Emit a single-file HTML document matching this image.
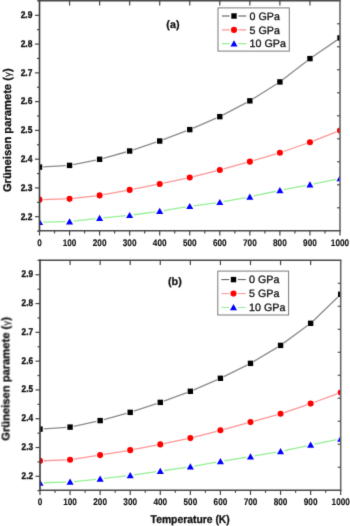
<!DOCTYPE html>
<html><head><meta charset="utf-8"><style>
html,body{margin:0;padding:0;background:#fff;}
body{width:350px;height:526px;overflow:hidden;}
svg{display:block;}
text{font-family:"Liberation Sans",sans-serif;fill:#111;text-rendering:geometricPrecision;}
.tl{font-size:9.8px;font-weight:bold;stroke:#111;stroke-width:0.35px;stroke-linejoin:round;}
.xl{font-size:9.5px;font-weight:bold;stroke:#111;stroke-width:0.15px;stroke-linejoin:round;}
.yt{font-size:11.2px;font-weight:bold;stroke:#111;stroke-width:0.3px;stroke-linejoin:round;}
.gm{font-weight:normal;font-size:10px;stroke-width:0.1px;}
.pl{font-size:10.8px;font-weight:bold;stroke:#111;stroke-width:0.25px;stroke-linejoin:round;}
.lg{font-size:10.7px;stroke:#111;stroke-width:0.3px;}
.xt{font-size:11.2px;font-weight:bold;stroke:#111;stroke-width:0.3px;stroke-linejoin:round;}
</style></head><body>
<svg width="350" height="526" viewBox="0 0 350 526">
<defs><filter id="bl" color-interpolation-filters="sRGB" x="0" y="0" width="100%" height="100%" filterUnits="userSpaceOnUse"><feConvolveMatrix order="3" kernelMatrix="0.0113 0.0838 0.0113 0.0838 0.6193 0.0838 0.0113 0.0838 0.0113" edgeMode="duplicate" preserveAlpha="true"/></filter></defs>
<g filter="url(#bl)">
<rect width="350" height="526" fill="#fff"/>
<clipPath id="ca"><rect x="39.5" y="0.8" width="300.5" height="230.0"/></clipPath>
<g clip-path="url(#ca)">
<path d="M43.29,166.89L65.76,165.62M73.27,164.65L95.88,160.06M103.26,158.29L125.99,152.00M133.26,149.79L156.09,142.20M163.25,139.66L186.20,130.96M193.24,128.11L216.31,118.14M223.16,114.87L246.49,102.61M253.07,98.82L276.68,83.94M282.90,79.58L306.95,60.94M313.08,56.46L336.87,40.10" fill="none" stroke="#8a8a8a" stroke-width="1.3"/>
<rect x="36.80" y="164.40" width="5.4" height="5.4" fill="#000"/>
<rect x="66.85" y="162.70" width="5.4" height="5.4" fill="#000"/>
<rect x="96.90" y="156.60" width="5.4" height="5.4" fill="#000"/>
<rect x="126.95" y="148.29" width="5.4" height="5.4" fill="#000"/>
<rect x="157.00" y="138.31" width="5.4" height="5.4" fill="#000"/>
<rect x="187.05" y="126.91" width="5.4" height="5.4" fill="#000"/>
<rect x="217.10" y="113.94" width="5.4" height="5.4" fill="#000"/>
<rect x="247.15" y="98.14" width="5.4" height="5.4" fill="#000"/>
<rect x="277.20" y="79.21" width="5.4" height="5.4" fill="#000"/>
<rect x="307.25" y="55.91" width="5.4" height="5.4" fill="#000"/>
<rect x="337.30" y="35.25" width="5.4" height="5.4" fill="#000"/>
<path d="M43.40,199.54L65.65,198.96M73.42,198.42L95.73,195.86M103.44,194.71L125.81,190.59M133.48,189.13L155.87,184.71M163.51,183.15L185.94,178.36M193.53,176.59L216.02,170.90M223.56,168.91L246.09,162.70M253.59,160.56L276.16,153.90M283.58,151.51L306.27,143.51M313.58,140.80L336.37,131.92" fill="none" stroke="#ff9494" stroke-width="1.3"/>
<circle cx="39.50" cy="199.64" r="3.05" fill="#f00"/>
<circle cx="69.55" cy="198.86" r="3.05" fill="#f00"/>
<circle cx="99.60" cy="195.41" r="3.05" fill="#f00"/>
<circle cx="129.65" cy="189.89" r="3.05" fill="#f00"/>
<circle cx="159.70" cy="183.96" r="3.05" fill="#f00"/>
<circle cx="189.75" cy="177.54" r="3.05" fill="#f00"/>
<circle cx="219.80" cy="169.95" r="3.05" fill="#f00"/>
<circle cx="249.85" cy="161.66" r="3.05" fill="#f00"/>
<circle cx="279.90" cy="152.80" r="3.05" fill="#f00"/>
<circle cx="309.95" cy="142.21" r="3.05" fill="#f00"/>
<circle cx="340.00" cy="130.51" r="3.05" fill="#f00"/>
<path d="M43.50,222.11L65.55,221.67M73.53,221.15L95.62,218.70M103.58,217.86L125.67,215.68M133.61,214.76L155.74,211.79M163.65,210.61L185.80,206.96M193.72,205.79L215.83,202.84M223.74,201.60L245.91,197.56M253.76,196.01L275.99,191.24M283.83,189.64L306.02,185.35M313.87,183.80L336.08,179.29" fill="none" stroke="#94f094" stroke-width="1.3"/>
<polygon points="39.50,218.79 43.05,224.99 35.95,224.99" fill="#00f"/>
<polygon points="69.55,218.18 73.10,224.38 66.00,224.38" fill="#00f"/>
<polygon points="99.60,214.84 103.15,221.04 96.05,221.04" fill="#00f"/>
<polygon points="129.65,211.88 133.20,218.08 126.10,218.08" fill="#00f"/>
<polygon points="159.70,207.85 163.25,214.05 156.15,214.05" fill="#00f"/>
<polygon points="189.75,202.90 193.30,209.10 186.20,209.10" fill="#00f"/>
<polygon points="219.80,198.91 223.35,205.11 216.25,205.11" fill="#00f"/>
<polygon points="249.85,193.44 253.40,199.64 246.30,199.64" fill="#00f"/>
<polygon points="279.90,186.99 283.45,193.19 276.35,193.19" fill="#00f"/>
<polygon points="309.95,181.18 313.50,187.38 306.40,187.38" fill="#00f"/>
<polygon points="340.00,175.08 343.55,181.28 336.45,181.28" fill="#00f"/>
</g>
<path d="M38.7,0.8H340.8" stroke="#4a4a4a" stroke-width="1.6"/>
<path d="M38.7,230.8H340.8" stroke="#4a4a4a" stroke-width="1.6"/>
<path d="M340.0,0.8V230.8" stroke="#666" stroke-width="1.6"/>
<path d="M39.5,0.0V231.60000000000002" stroke="#3a3a3a" stroke-width="1.6"/>
<line x1="37.0" y1="231.08" x2="39.5" y2="231.08" stroke="#444" stroke-width="1.2"/>
<line x1="35.0" y1="216.70" x2="39.5" y2="216.70" stroke="#444" stroke-width="1.2"/>
<line x1="37.0" y1="202.32" x2="39.5" y2="202.32" stroke="#444" stroke-width="1.2"/>
<line x1="35.0" y1="187.93" x2="39.5" y2="187.93" stroke="#444" stroke-width="1.2"/>
<line x1="37.0" y1="173.55" x2="39.5" y2="173.55" stroke="#444" stroke-width="1.2"/>
<line x1="35.0" y1="159.16" x2="39.5" y2="159.16" stroke="#444" stroke-width="1.2"/>
<line x1="37.0" y1="144.77" x2="39.5" y2="144.77" stroke="#444" stroke-width="1.2"/>
<line x1="35.0" y1="130.39" x2="39.5" y2="130.39" stroke="#444" stroke-width="1.2"/>
<line x1="37.0" y1="116.00" x2="39.5" y2="116.00" stroke="#444" stroke-width="1.2"/>
<line x1="35.0" y1="101.62" x2="39.5" y2="101.62" stroke="#444" stroke-width="1.2"/>
<line x1="37.0" y1="87.23" x2="39.5" y2="87.23" stroke="#444" stroke-width="1.2"/>
<line x1="35.0" y1="72.85" x2="39.5" y2="72.85" stroke="#444" stroke-width="1.2"/>
<line x1="37.0" y1="58.47" x2="39.5" y2="58.47" stroke="#444" stroke-width="1.2"/>
<line x1="35.0" y1="44.08" x2="39.5" y2="44.08" stroke="#444" stroke-width="1.2"/>
<line x1="37.0" y1="29.69" x2="39.5" y2="29.69" stroke="#444" stroke-width="1.2"/>
<line x1="35.0" y1="15.31" x2="39.5" y2="15.31" stroke="#444" stroke-width="1.2"/>
<line x1="37.0" y1="0.92" x2="39.5" y2="0.92" stroke="#444" stroke-width="1.2"/>
<line x1="39.50" y1="230.8" x2="39.50" y2="235.5" stroke="#444" stroke-width="1.2"/>
<line x1="54.52" y1="230.8" x2="54.52" y2="233.4" stroke="#444" stroke-width="1.2"/>
<line x1="69.55" y1="230.8" x2="69.55" y2="235.5" stroke="#444" stroke-width="1.2"/>
<line x1="84.58" y1="230.8" x2="84.58" y2="233.4" stroke="#444" stroke-width="1.2"/>
<line x1="99.60" y1="230.8" x2="99.60" y2="235.5" stroke="#444" stroke-width="1.2"/>
<line x1="114.62" y1="230.8" x2="114.62" y2="233.4" stroke="#444" stroke-width="1.2"/>
<line x1="129.65" y1="230.8" x2="129.65" y2="235.5" stroke="#444" stroke-width="1.2"/>
<line x1="144.68" y1="230.8" x2="144.68" y2="233.4" stroke="#444" stroke-width="1.2"/>
<line x1="159.70" y1="230.8" x2="159.70" y2="235.5" stroke="#444" stroke-width="1.2"/>
<line x1="174.72" y1="230.8" x2="174.72" y2="233.4" stroke="#444" stroke-width="1.2"/>
<line x1="189.75" y1="230.8" x2="189.75" y2="235.5" stroke="#444" stroke-width="1.2"/>
<line x1="204.78" y1="230.8" x2="204.78" y2="233.4" stroke="#444" stroke-width="1.2"/>
<line x1="219.80" y1="230.8" x2="219.80" y2="235.5" stroke="#444" stroke-width="1.2"/>
<line x1="234.82" y1="230.8" x2="234.82" y2="233.4" stroke="#444" stroke-width="1.2"/>
<line x1="249.85" y1="230.8" x2="249.85" y2="235.5" stroke="#444" stroke-width="1.2"/>
<line x1="264.88" y1="230.8" x2="264.88" y2="233.4" stroke="#444" stroke-width="1.2"/>
<line x1="279.90" y1="230.8" x2="279.90" y2="235.5" stroke="#444" stroke-width="1.2"/>
<line x1="294.93" y1="230.8" x2="294.93" y2="233.4" stroke="#444" stroke-width="1.2"/>
<line x1="309.95" y1="230.8" x2="309.95" y2="235.5" stroke="#444" stroke-width="1.2"/>
<line x1="324.98" y1="230.8" x2="324.98" y2="233.4" stroke="#444" stroke-width="1.2"/>
<line x1="340.00" y1="230.8" x2="340.00" y2="235.5" stroke="#444" stroke-width="1.2"/>
<line x1="69.55" y1="0.8" x2="69.55" y2="5.6" stroke="#444" stroke-width="1.2"/>
<line x1="99.60" y1="0.8" x2="99.60" y2="5.6" stroke="#444" stroke-width="1.2"/>
<line x1="129.65" y1="0.8" x2="129.65" y2="5.6" stroke="#444" stroke-width="1.2"/>
<line x1="159.70" y1="0.8" x2="159.70" y2="5.6" stroke="#444" stroke-width="1.2"/>
<line x1="189.75" y1="0.8" x2="189.75" y2="5.6" stroke="#444" stroke-width="1.2"/>
<line x1="219.80" y1="0.8" x2="219.80" y2="5.6" stroke="#444" stroke-width="1.2"/>
<line x1="249.85" y1="0.8" x2="249.85" y2="5.6" stroke="#444" stroke-width="1.2"/>
<line x1="279.90" y1="0.8" x2="279.90" y2="5.6" stroke="#444" stroke-width="1.2"/>
<line x1="309.95" y1="0.8" x2="309.95" y2="5.6" stroke="#444" stroke-width="1.2"/>
<line x1="337.0" y1="23.80" x2="340.0" y2="23.80" stroke="#444" stroke-width="1.1"/>
<line x1="337.0" y1="46.80" x2="340.0" y2="46.80" stroke="#444" stroke-width="1.1"/>
<line x1="337.0" y1="69.80" x2="340.0" y2="69.80" stroke="#444" stroke-width="1.1"/>
<line x1="337.0" y1="92.80" x2="340.0" y2="92.80" stroke="#444" stroke-width="1.1"/>
<line x1="337.0" y1="115.80" x2="340.0" y2="115.80" stroke="#444" stroke-width="1.1"/>
<line x1="337.0" y1="138.80" x2="340.0" y2="138.80" stroke="#444" stroke-width="1.1"/>
<line x1="337.0" y1="161.80" x2="340.0" y2="161.80" stroke="#444" stroke-width="1.1"/>
<line x1="337.0" y1="184.80" x2="340.0" y2="184.80" stroke="#444" stroke-width="1.1"/>
<line x1="337.0" y1="207.80" x2="340.0" y2="207.80" stroke="#444" stroke-width="1.1"/>
<text transform="translate(32.4,219.50) scale(0.86,1)" class="tl" text-anchor="end">2.2</text>
<text transform="translate(32.4,190.73) scale(0.86,1)" class="tl" text-anchor="end">2.3</text>
<text transform="translate(32.4,161.96) scale(0.86,1)" class="tl" text-anchor="end">2.4</text>
<text transform="translate(32.4,133.19) scale(0.86,1)" class="tl" text-anchor="end">2.5</text>
<text transform="translate(32.4,104.42) scale(0.86,1)" class="tl" text-anchor="end">2.6</text>
<text transform="translate(32.4,75.65) scale(0.86,1)" class="tl" text-anchor="end">2.7</text>
<text transform="translate(32.4,46.88) scale(0.86,1)" class="tl" text-anchor="end">2.8</text>
<text transform="translate(32.4,18.11) scale(0.86,1)" class="tl" text-anchor="end">2.9</text>
<text transform="translate(39.50,245.5) scale(0.865,1)" class="xl" text-anchor="middle">0</text>
<text transform="translate(69.55,245.5) scale(0.865,1)" class="xl" text-anchor="middle">100</text>
<text transform="translate(99.60,245.5) scale(0.865,1)" class="xl" text-anchor="middle">200</text>
<text transform="translate(129.65,245.5) scale(0.865,1)" class="xl" text-anchor="middle">300</text>
<text transform="translate(159.70,245.5) scale(0.865,1)" class="xl" text-anchor="middle">400</text>
<text transform="translate(189.75,245.5) scale(0.865,1)" class="xl" text-anchor="middle">500</text>
<text transform="translate(219.80,245.5) scale(0.865,1)" class="xl" text-anchor="middle">600</text>
<text transform="translate(249.85,245.5) scale(0.865,1)" class="xl" text-anchor="middle">700</text>
<text transform="translate(279.90,245.5) scale(0.865,1)" class="xl" text-anchor="middle">800</text>
<text transform="translate(309.95,245.5) scale(0.865,1)" class="xl" text-anchor="middle">900</text>
<text transform="translate(340.00,245.5) scale(0.865,1)" class="xl" text-anchor="middle">1000</text>
<text class="yt" transform="translate(10.9,192.1) rotate(-90)">Grüneisen paramete (<tspan class="gm">γ</tspan>)</text>
<text class="pl" x="166.3" y="27.7">(a)</text>
<rect x="218.0" y="7.9" width="71.3" height="43.2" fill="#fff" stroke="#7a7a7a" stroke-width="1"/>
<path d="M221.9,16.0H229.6M238.4,16.0H246.3" stroke="#8a8a8a" stroke-width="1.3"/>
<rect x="231.3" y="13.3" width="5.4" height="5.4" fill="#000"/>
<text class="lg" x="249.6" y="19.8">0 GPa</text>
<path d="M221.9,29.9H229.6M238.4,29.9H246.3" stroke="#ff9494" stroke-width="1.3"/>
<circle cx="234" cy="29.9" r="3.05" fill="#f00"/>
<text class="lg" x="249.6" y="33.699999999999996">5 GPa</text>
<path d="M221.9,43.6H229.6M238.4,43.6H246.3" stroke="#94f094" stroke-width="1.3"/>
<polygon points="234,40.19 237.55,46.39 230.45,46.39" fill="#00f"/>
<text class="lg" x="249.6" y="47.4">10 GPa</text>
<clipPath id="cb"><rect x="40.0" y="260.3" width="300.7" height="229.89999999999998"/></clipPath>
<g clip-path="url(#cb)">
<path d="M43.79,428.86L66.28,427.35M73.78,426.29L96.43,421.39M103.81,419.59L126.54,413.36M133.82,411.16L156.67,403.59M163.85,401.08L186.78,392.63M193.84,389.80L216.93,379.81M223.82,376.61L247.09,365.05M253.75,361.41L277.30,347.34M283.62,343.14L307.57,325.56M313.36,320.67L337.97,296.93" fill="none" stroke="#8a8a8a" stroke-width="1.3"/>
<rect x="37.30" y="426.41" width="5.4" height="5.4" fill="#000"/>
<rect x="67.37" y="424.40" width="5.4" height="5.4" fill="#000"/>
<rect x="97.44" y="417.89" width="5.4" height="5.4" fill="#000"/>
<rect x="127.51" y="409.66" width="5.4" height="5.4" fill="#000"/>
<rect x="157.58" y="399.70" width="5.4" height="5.4" fill="#000"/>
<rect x="187.65" y="388.61" width="5.4" height="5.4" fill="#000"/>
<rect x="217.72" y="375.60" width="5.4" height="5.4" fill="#000"/>
<rect x="247.79" y="360.66" width="5.4" height="5.4" fill="#000"/>
<rect x="277.86" y="342.69" width="5.4" height="5.4" fill="#000"/>
<rect x="307.93" y="320.61" width="5.4" height="5.4" fill="#000"/>
<rect x="338.00" y="291.59" width="5.4" height="5.4" fill="#000"/>
<path d="M43.90,460.74L66.17,459.84M73.93,459.10L96.28,455.70M103.99,454.48L126.36,450.79M134.04,449.43L156.45,445.13M164.10,443.60L186.53,438.90M194.12,437.12L216.65,431.27M224.18,429.27L246.73,423.12M254.25,421.05L276.80,414.83M284.25,412.55L306.94,404.86M314.29,402.25L337.04,393.84" fill="none" stroke="#ff9494" stroke-width="1.3"/>
<circle cx="40.00" cy="460.90" r="3.05" fill="#f00"/>
<circle cx="70.07" cy="459.69" r="3.05" fill="#f00"/>
<circle cx="100.14" cy="455.11" r="3.05" fill="#f00"/>
<circle cx="130.21" cy="450.16" r="3.05" fill="#f00"/>
<circle cx="160.28" cy="444.40" r="3.05" fill="#f00"/>
<circle cx="190.35" cy="438.10" r="3.05" fill="#f00"/>
<circle cx="220.42" cy="430.29" r="3.05" fill="#f00"/>
<circle cx="250.49" cy="422.09" r="3.05" fill="#f00"/>
<circle cx="280.56" cy="413.80" r="3.05" fill="#f00"/>
<circle cx="310.63" cy="403.61" r="3.05" fill="#f00"/>
<circle cx="340.70" cy="392.49" r="3.05" fill="#f00"/>
<path d="M44.00,482.77L66.07,482.12M74.05,481.59L96.16,479.30M104.11,478.44L126.24,475.94M134.17,474.91L156.32,471.67M164.24,470.51L186.39,467.29M194.29,466.03L216.48,462.18M224.37,460.86L246.54,457.25M254.43,455.94L276.62,452.18M284.47,450.67L306.72,445.85M314.55,444.21L336.78,439.70" fill="none" stroke="#94f094" stroke-width="1.3"/>
<polygon points="40.00,479.48 43.55,485.68 36.45,485.68" fill="#00f"/>
<polygon points="70.07,478.59 73.62,484.79 66.52,484.79" fill="#00f"/>
<polygon points="100.14,475.48 103.69,481.68 96.59,481.68" fill="#00f"/>
<polygon points="130.21,472.08 133.76,478.28 126.66,478.28" fill="#00f"/>
<polygon points="160.28,467.68 163.83,473.88 156.73,473.88" fill="#00f"/>
<polygon points="190.35,463.30 193.90,469.50 186.80,469.50" fill="#00f"/>
<polygon points="220.42,458.09 223.97,464.29 216.87,464.29" fill="#00f"/>
<polygon points="250.49,453.20 254.04,459.40 246.94,459.40" fill="#00f"/>
<polygon points="280.56,448.10 284.11,454.30 277.01,454.30" fill="#00f"/>
<polygon points="310.63,441.60 314.18,447.80 307.08,447.80" fill="#00f"/>
<polygon points="340.70,435.49 344.25,441.69 337.15,441.69" fill="#00f"/>
</g>
<path d="M39.2,260.3H341.5" stroke="#4a4a4a" stroke-width="1.6"/>
<path d="M39.2,490.2H341.5" stroke="#4a4a4a" stroke-width="1.6"/>
<path d="M340.7,260.3V490.2" stroke="#666" stroke-width="1.6"/>
<path d="M40.0,259.5V491.0" stroke="#3a3a3a" stroke-width="1.6"/>
<line x1="37.5" y1="490.69" x2="40.0" y2="490.69" stroke="#444" stroke-width="1.2"/>
<line x1="35.5" y1="476.30" x2="40.0" y2="476.30" stroke="#444" stroke-width="1.2"/>
<line x1="37.5" y1="461.91" x2="40.0" y2="461.91" stroke="#444" stroke-width="1.2"/>
<line x1="35.5" y1="447.51" x2="40.0" y2="447.51" stroke="#444" stroke-width="1.2"/>
<line x1="37.5" y1="433.12" x2="40.0" y2="433.12" stroke="#444" stroke-width="1.2"/>
<line x1="35.5" y1="418.72" x2="40.0" y2="418.72" stroke="#444" stroke-width="1.2"/>
<line x1="37.5" y1="404.33" x2="40.0" y2="404.33" stroke="#444" stroke-width="1.2"/>
<line x1="35.5" y1="389.93" x2="40.0" y2="389.93" stroke="#444" stroke-width="1.2"/>
<line x1="37.5" y1="375.53" x2="40.0" y2="375.53" stroke="#444" stroke-width="1.2"/>
<line x1="35.5" y1="361.14" x2="40.0" y2="361.14" stroke="#444" stroke-width="1.2"/>
<line x1="37.5" y1="346.75" x2="40.0" y2="346.75" stroke="#444" stroke-width="1.2"/>
<line x1="35.5" y1="332.35" x2="40.0" y2="332.35" stroke="#444" stroke-width="1.2"/>
<line x1="37.5" y1="317.96" x2="40.0" y2="317.96" stroke="#444" stroke-width="1.2"/>
<line x1="35.5" y1="303.56" x2="40.0" y2="303.56" stroke="#444" stroke-width="1.2"/>
<line x1="37.5" y1="289.17" x2="40.0" y2="289.17" stroke="#444" stroke-width="1.2"/>
<line x1="35.5" y1="274.77" x2="40.0" y2="274.77" stroke="#444" stroke-width="1.2"/>
<line x1="37.5" y1="260.38" x2="40.0" y2="260.38" stroke="#444" stroke-width="1.2"/>
<line x1="40.00" y1="490.2" x2="40.00" y2="494.9" stroke="#444" stroke-width="1.2"/>
<line x1="55.03" y1="490.2" x2="55.03" y2="492.8" stroke="#444" stroke-width="1.2"/>
<line x1="70.07" y1="490.2" x2="70.07" y2="494.9" stroke="#444" stroke-width="1.2"/>
<line x1="85.10" y1="490.2" x2="85.10" y2="492.8" stroke="#444" stroke-width="1.2"/>
<line x1="100.14" y1="490.2" x2="100.14" y2="494.9" stroke="#444" stroke-width="1.2"/>
<line x1="115.17" y1="490.2" x2="115.17" y2="492.8" stroke="#444" stroke-width="1.2"/>
<line x1="130.21" y1="490.2" x2="130.21" y2="494.9" stroke="#444" stroke-width="1.2"/>
<line x1="145.25" y1="490.2" x2="145.25" y2="492.8" stroke="#444" stroke-width="1.2"/>
<line x1="160.28" y1="490.2" x2="160.28" y2="494.9" stroke="#444" stroke-width="1.2"/>
<line x1="175.31" y1="490.2" x2="175.31" y2="492.8" stroke="#444" stroke-width="1.2"/>
<line x1="190.35" y1="490.2" x2="190.35" y2="494.9" stroke="#444" stroke-width="1.2"/>
<line x1="205.38" y1="490.2" x2="205.38" y2="492.8" stroke="#444" stroke-width="1.2"/>
<line x1="220.42" y1="490.2" x2="220.42" y2="494.9" stroke="#444" stroke-width="1.2"/>
<line x1="235.46" y1="490.2" x2="235.46" y2="492.8" stroke="#444" stroke-width="1.2"/>
<line x1="250.49" y1="490.2" x2="250.49" y2="494.9" stroke="#444" stroke-width="1.2"/>
<line x1="265.52" y1="490.2" x2="265.52" y2="492.8" stroke="#444" stroke-width="1.2"/>
<line x1="280.56" y1="490.2" x2="280.56" y2="494.9" stroke="#444" stroke-width="1.2"/>
<line x1="295.60" y1="490.2" x2="295.60" y2="492.8" stroke="#444" stroke-width="1.2"/>
<line x1="310.63" y1="490.2" x2="310.63" y2="494.9" stroke="#444" stroke-width="1.2"/>
<line x1="325.67" y1="490.2" x2="325.67" y2="492.8" stroke="#444" stroke-width="1.2"/>
<line x1="340.70" y1="490.2" x2="340.70" y2="494.9" stroke="#444" stroke-width="1.2"/>
<line x1="70.07" y1="260.3" x2="70.07" y2="265.1" stroke="#444" stroke-width="1.2"/>
<line x1="100.14" y1="260.3" x2="100.14" y2="265.1" stroke="#444" stroke-width="1.2"/>
<line x1="130.21" y1="260.3" x2="130.21" y2="265.1" stroke="#444" stroke-width="1.2"/>
<line x1="160.28" y1="260.3" x2="160.28" y2="265.1" stroke="#444" stroke-width="1.2"/>
<line x1="190.35" y1="260.3" x2="190.35" y2="265.1" stroke="#444" stroke-width="1.2"/>
<line x1="220.42" y1="260.3" x2="220.42" y2="265.1" stroke="#444" stroke-width="1.2"/>
<line x1="250.49" y1="260.3" x2="250.49" y2="265.1" stroke="#444" stroke-width="1.2"/>
<line x1="280.56" y1="260.3" x2="280.56" y2="265.1" stroke="#444" stroke-width="1.2"/>
<line x1="310.63" y1="260.3" x2="310.63" y2="265.1" stroke="#444" stroke-width="1.2"/>
<line x1="337.7" y1="283.29" x2="340.7" y2="283.29" stroke="#444" stroke-width="1.1"/>
<line x1="337.7" y1="306.28" x2="340.7" y2="306.28" stroke="#444" stroke-width="1.1"/>
<line x1="337.7" y1="329.27" x2="340.7" y2="329.27" stroke="#444" stroke-width="1.1"/>
<line x1="337.7" y1="352.26" x2="340.7" y2="352.26" stroke="#444" stroke-width="1.1"/>
<line x1="337.7" y1="375.25" x2="340.7" y2="375.25" stroke="#444" stroke-width="1.1"/>
<line x1="337.7" y1="398.24" x2="340.7" y2="398.24" stroke="#444" stroke-width="1.1"/>
<line x1="337.7" y1="421.23" x2="340.7" y2="421.23" stroke="#444" stroke-width="1.1"/>
<line x1="337.7" y1="444.22" x2="340.7" y2="444.22" stroke="#444" stroke-width="1.1"/>
<line x1="337.7" y1="467.21" x2="340.7" y2="467.21" stroke="#444" stroke-width="1.1"/>
<text transform="translate(33.0,478.70) scale(0.84,1)" class="tl" text-anchor="end">2.2</text>
<text transform="translate(33.0,449.91) scale(0.84,1)" class="tl" text-anchor="end">2.3</text>
<text transform="translate(33.0,421.12) scale(0.84,1)" class="tl" text-anchor="end">2.4</text>
<text transform="translate(33.0,392.33) scale(0.84,1)" class="tl" text-anchor="end">2.5</text>
<text transform="translate(33.0,363.54) scale(0.84,1)" class="tl" text-anchor="end">2.6</text>
<text transform="translate(33.0,334.75) scale(0.84,1)" class="tl" text-anchor="end">2.7</text>
<text transform="translate(33.0,305.96) scale(0.84,1)" class="tl" text-anchor="end">2.8</text>
<text transform="translate(33.0,277.17) scale(0.84,1)" class="tl" text-anchor="end">2.9</text>
<text transform="translate(40.00,505.0) scale(0.865,1)" class="xl" text-anchor="middle">0</text>
<text transform="translate(70.07,505.0) scale(0.865,1)" class="xl" text-anchor="middle">100</text>
<text transform="translate(100.14,505.0) scale(0.865,1)" class="xl" text-anchor="middle">200</text>
<text transform="translate(130.21,505.0) scale(0.865,1)" class="xl" text-anchor="middle">300</text>
<text transform="translate(160.28,505.0) scale(0.865,1)" class="xl" text-anchor="middle">400</text>
<text transform="translate(190.35,505.0) scale(0.865,1)" class="xl" text-anchor="middle">500</text>
<text transform="translate(220.42,505.0) scale(0.865,1)" class="xl" text-anchor="middle">600</text>
<text transform="translate(250.49,505.0) scale(0.865,1)" class="xl" text-anchor="middle">700</text>
<text transform="translate(280.56,505.0) scale(0.865,1)" class="xl" text-anchor="middle">800</text>
<text transform="translate(310.63,505.0) scale(0.865,1)" class="xl" text-anchor="middle">900</text>
<text transform="translate(340.70,505.0) scale(0.865,1)" class="xl" text-anchor="middle">1000</text>
<text class="yt" transform="translate(9.4,440.7) rotate(-90)">Grüneisen paramete (<tspan class="gm">γ</tspan>)</text>
<text class="pl" x="168.0" y="285.0">(b)</text>
<rect x="217.8" y="271.1" width="70.8" height="43.9" fill="#fff" stroke="#7a7a7a" stroke-width="1"/>
<path d="M221.3,279.6H229.1M237.9,279.6H245.8" stroke="#555" stroke-width="1.0"/>
<rect x="230.8" y="276.90000000000003" width="5.4" height="5.4" fill="#000"/>
<text class="lg" x="249.1" y="283.40000000000003">0 GPa</text>
<path d="M221.3,293.6H229.1M237.9,293.6H245.8" stroke="#ff9494" stroke-width="1.0"/>
<circle cx="233.5" cy="293.6" r="3.05" fill="#f00"/>
<text class="lg" x="249.1" y="297.40000000000003">5 GPa</text>
<path d="M221.3,307.4H229.1M237.9,307.4H245.8" stroke="#94f094" stroke-width="1.0"/>
<polygon points="233.5,303.98999999999995 237.05,310.19 229.95,310.19" fill="#00f"/>
<text class="lg" x="249.1" y="311.2">10 GPa</text>
<text class="xt" transform="translate(150.6,523.2) scale(0.925,1)">Temperature (K)</text>
</g>
</svg>
</body></html>
